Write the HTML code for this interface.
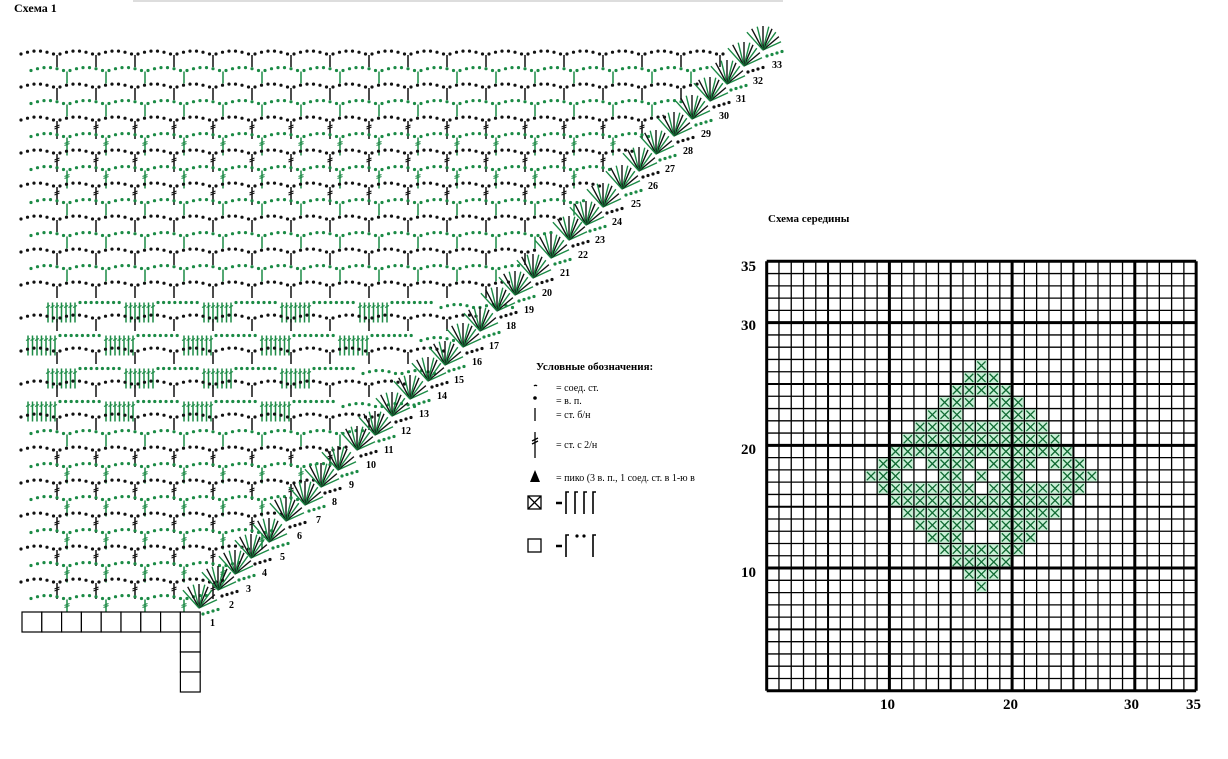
<!DOCTYPE html>
<html><head><meta charset="utf-8"><style>
html,body{margin:0;padding:0;background:#fff;}
body{width:1228px;height:759px;overflow:hidden;position:relative;font-family:"Liberation Serif",serif;}
svg{position:absolute;left:0;top:0;}
.b{font-weight:bold;font-family:"Liberation Serif","Noto Serif CJK SC",serif;}
</style></head><body>
<svg id="s" width="1228" height="759" viewBox="0 0 1228 759">
<rect x="133" y="0" width="650" height="2" fill="#ddd"/>
<text x="14" y="12" class="b" font-size="12">Схема 1</text>
<text x="768" y="222" class="b" font-size="11">Схема середины</text>
<g id="chart"></g>
<g id="grid"></g>
<g class="b" font-size="15">
<text x="741" y="271">35</text><text x="741" y="330">30</text><text x="741" y="454">20</text><text x="741" y="577">10</text>
<text x="880" y="709">10</text><text x="1003" y="709">20</text><text x="1124" y="709">30</text><text x="1186" y="709">35</text>
</g>
<g class="b" font-size="10" id="nums">
<text x="210" y="626">1</text><text x="229" y="608">2</text><text x="246" y="592">3</text><text x="262" y="576">4</text><text x="280" y="560">5</text><text x="297" y="539">6</text><text x="316" y="523">7</text><text x="332" y="505">8</text><text x="349" y="488">9</text><text x="366" y="468">10</text><text x="384" y="453">11</text><text x="401" y="434">12</text><text x="419" y="417">13</text><text x="437" y="399">14</text><text x="454" y="383">15</text><text x="472" y="365">16</text><text x="489" y="349">17</text><text x="506" y="329">18</text><text x="524" y="313">19</text><text x="542" y="296">20</text><text x="560" y="276">21</text><text x="578" y="258">22</text><text x="595" y="243">23</text><text x="612" y="225">24</text><text x="631" y="207">25</text><text x="648" y="189">26</text><text x="665" y="172">27</text><text x="683" y="154">28</text><text x="701" y="137">29</text><text x="719" y="119">30</text><text x="736" y="102">31</text><text x="753" y="84">32</text><text x="772" y="68">33</text>
</g>
<g class="b" font-size="11"><text x="536" y="370">Условные обозначения:</text></g>
<g font-size="10">
<text x="556" y="391">= соед. ст.</text>
<text x="556" y="404">= в. п.</text>
<text x="556" y="418">= ст. б/н</text>
<text x="556" y="448">= ст. с 2/н</text>
<text x="556" y="481">= пико (3 в. п., 1 соед. ст. в 1-ю в</text>
</g>
<rect x="722" y="465" width="20" height="22" fill="#fff"/>
<g stroke="#000" fill="none" stroke-width="1.3">
<path d="M534 386 a2 2 0 0 1 3 0"/>
<line x1="535" y1="408" x2="535" y2="421"/>
<line x1="535" y1="432" x2="535" y2="458"/><line x1="532" y1="441" x2="538" y2="438"/><line x1="532" y1="444" x2="538" y2="441"/>
<rect x="528" y="496" width="13" height="13"/><line x1="528" y1="496" x2="541" y2="509"/><line x1="541" y1="496" x2="528" y2="509"/>
<rect x="528" y="539" width="13" height="13"/>
<line x1="556" y1="503" x2="562" y2="503" stroke-width="2.5"/><line x1="556" y1="546" x2="562" y2="546" stroke-width="2.5"/>
<path d="M566 514 V492 h3 M575 514 V492 h3 M584 514 V492 h3 M593 514 V492 h3" stroke-width="1.6"/>
<path d="M566 557 V535 h3 M593 557 V535 h3" stroke-width="1.6"/>
</g>
<circle cx="535" cy="398" r="1.8"/>
<polygon points="535,470 530,482 540,482"/>
<circle cx="577" cy="536" r="1.6"/><circle cx="584" cy="536" r="1.6"/>
<g stroke="#000" fill="#fff" stroke-width="1.2" id="base"></g>
</svg>
<script>
const NS="http://www.w3.org/2000/svg";
function el(p,t,a){const e=document.createElementNS(NS,t);for(const k in a)e.setAttribute(k,a[k]);p.appendChild(e);return e;}
const ch=document.getElementById('chart');
const G='#1b8a45',K='#111';
function dot(x,y,c){el(ch,'circle',{cx:x.toFixed(1),cy:y.toFixed(1),r:1.6,fill:c});}
function ln(x1,y1,x2,y2,c,w){el(ch,'line',{x1:x1.toFixed(1),y1:y1.toFixed(1),x2:x2.toFixed(1),y2:y2.toFixed(1),stroke:c,'stroke-width':w||1.3});}
const clusters={15:1,17:1,19:1,21:1};
for(let i=0;i<34;i++){
 const y=55+i*16.5, c=(i%2)?G:K;
 const xe=210+(605-y)*0.955-14;
 let x=18+(i%2?10:0);
 if(clusters[i]){
   let off=(i%4===1)?0:40;
   x=28+off*0.5; let k=0;
   while(x<xe-70){
     if(k%2===0){for(let j=0;j<7;j++){ln(x+j*4.5,y,x+j*4.5,y+20,G,1.5);ln(x+j*4.5-2,y+5,x+j*4.5+2,y+3,G,1);}x+=32;}
     else{for(let j=0;j<8;j++)dot(x+j*5.6,y,G);x+=46;}
     k++;
   }
   while(x<xe){for(let j=0;j<6;j++)dot(x+3+j*6.5,y-4*Math.sin(Math.PI*(j+0.5)/6)+(x>xe-80?6:0),c);x+=39;}
   continue;
 }
 const dc=(i>=4&&i<=8)||(i>=24);
 while(x<xe){
   for(let j=0;j<6;j++){const xx=x+3+j*6.5; if(xx<xe+8) dot(xx,y-4*Math.sin(Math.PI*(j+0.5)/6),c);}
   x+=39;
   if(x<xe){const L=dc?(i>=24?16:18):12; ln(x,y,x,y+L,c,1.5); if(dc){ln(x-2.5,y+6,x+2.5,y+4,c,1);ln(x-2.5,y+8,x+2.5,y+6,c,1);}}
 }
}
// fans
const labs=[[213,622],[232,604],[249,588],[265,572],[283,556],[300,535],[319,519],[335,501],[352,484],[371,464],[389,449],[406,430],[424,413],[442,395],[459,379],[477,361],[494,345],[511,325],[529,309],[547,292],[565,272],[583,254],[600,239],[617,221],[636,203],[653,185],[670,168],[688,150],[706,133],[724,115],[741,98],[758,80],[777,64]];
labs.forEach((p,k)=>{
 const ox=p[0]-14,oy=p[1]-14;
 for(let a=0;a<9;a++){
   const ang=(20+a*14)*Math.PI/180, L=24;
   const col=(a%2)?K:G;
   ln(ox,oy,ox+Math.cos(ang)*L*(a<4?0.8:1),oy-Math.sin(ang)*L,col,1.4);
 }
 for(let j=0;j<4;j++)dot(ox+4+j*5,oy+6-j*1.5,(k%2)?K:G);
});
// grid
const gr=document.getElementById('grid');
const L0=766.7,T0=261.3,S=12.27,N=35,R=L0+N*S,B=T0+N*S;
const holes=new Set();
function hole(r,c){[[r-1,c],[r,c-1],[r,c],[r,c+1]].forEach(q=>holes.add(q[0]+','+q[1]));}
hole(12,17);hole(17,12);hole(17,22);hole(22,17);
[[16,17],[17,16],[17,18],[18,17]].forEach(q=>holes.add(q[0]+','+q[1]));
for(let r=0;r<N;r++)for(let c=0;c<N;c++){
 if(Math.abs(r-17)+Math.abs(c-17)<=9 && !holes.has(r+','+c)){
  const x=L0+c*S,y=T0+r*S;
  el(gr,'rect',{x:x,y:y,width:S,height:S,fill:'#c9efd6'});
  el(gr,'path',{d:`M${x+2} ${y+2}L${x+S-2} ${y+S-2}M${x+S-2} ${y+2}L${x+2} ${y+S-2}`,stroke:'#0f6a32','stroke-width':1.3,fill:'none'});
 }
}
for(let k=0;k<=N;k++){
 const w=(k%5===0)?((k===0||k===N||k%10===0)?3:2):1.3;
 const x=L0+k*S; el(gr,'line',{x1:x,y1:T0,x2:x,y2:B,stroke:'#000','stroke-width':(k===10||k===20||k===30)?3:w});
 const y=B-k*S; el(gr,'line',{x1:L0,y1:y,x2:R,y2:y,stroke:'#000','stroke-width':(k===10||k===20||k===30)?3:w});
}
// base squares
const bs=document.getElementById('base');
for(let k=0;k<9;k++)el(bs,'rect',{x:22+k*19.8,y:612,width:19.8,height:20});
for(let k=1;k<4;k++)el(bs,'rect',{x:180.4,y:612+k*20,width:19.8,height:20});
</script>
</body></html>
